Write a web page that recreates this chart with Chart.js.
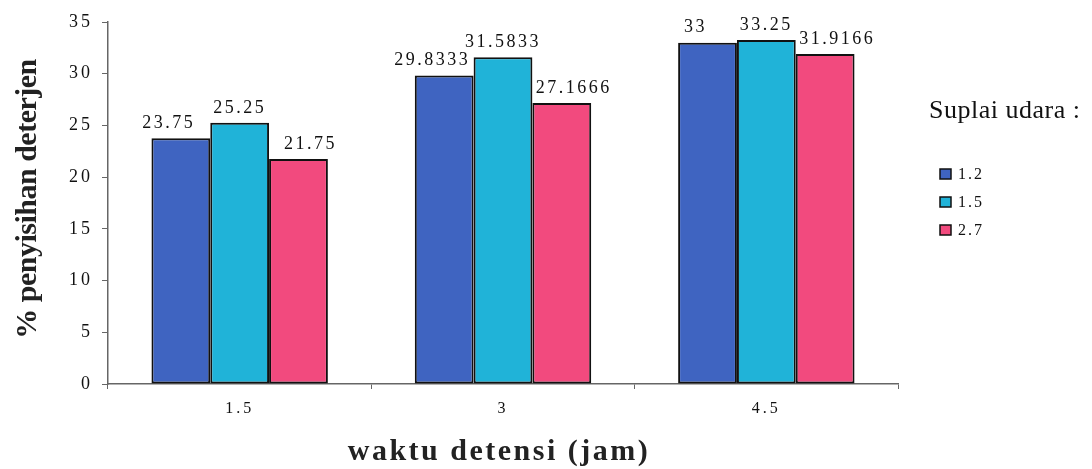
<!DOCTYPE html>
<html>
<head>
<meta charset="utf-8">
<script src="https://cdn.jsdelivr.net/npm/chart.js@4"></script>
<style>
  html, body { margin: 0; padding: 0; background: #fff; }
  #wrap { width: 1092px; height: 469px; }
</style>
</head>
<body>
<div id="wrap"><canvas id="c" width="1092" height="469"></canvas></div>
<script>
const categories = ['1.5', '3', '4.5'];
const seriesNames = ['1.2', '1.5', '2.7'];
const series12 = [23.75, 29.8333, 33];
const series15 = [25.25, 31.5833, 33.25];
const series27 = [21.75, 27.1666, 31.9166];
const labels12 = ['23.75', '29.8333', '33'];
const labels15 = ['25.25', '31.5833', '33.25'];
const labels27 = ['21.75', '27.1666', '31.9166'];
const yTicks = [0, 5, 10, 15, 20, 25, 30, 35];
const xTitle = 'waktu detensi (jam)';
const yTitle = '% penyisihan deterjen';
const legendTitle = 'Suplai udara :';

const colors = ['#3f64c1', '#20b3d8', '#f24a7e'];
const valueLabels = [labels12, labels15, labels27];
const labelOffsets = [-12, 0, 12];
const serif = '"Liberation Serif", "DejaVu Serif", serif';

const spacingPlugin = {
  id: 'spacing',
  beforeDraw(chart) { chart.ctx.letterSpacing = '3px'; }
};

const valueLabelPlugin = {
  id: 'valueLabels',
  afterDatasetsDraw(chart) {
    const ctx = chart.ctx;
    ctx.save();
    ctx.letterSpacing = '2.5px';
    ctx.font = '18px ' + serif;
    ctx.fillStyle = '#111';
    ctx.textAlign = 'center';
    ctx.textBaseline = 'bottom';
    chart.data.datasets.forEach((ds, di) => {
      const meta = chart.getDatasetMeta(di);
      meta.data.forEach((bar, i) => {
        ctx.fillText(valueLabels[di][i], bar.x + labelOffsets[di], bar.y - 6);
      });
    });
    ctx.restore();
  }
};

const titlesPlugin = {
  id: 'axisTitles',
  afterDraw(chart) {
    const ctx = chart.ctx;
    const area = chart.chartArea;
    ctx.save();
    ctx.fillStyle = '#222';
    ctx.textAlign = 'center';
    ctx.textBaseline = 'middle';
    ctx.letterSpacing = '2.5px';
    ctx.font = 'bold 30px ' + serif;
    ctx.fillText(xTitle, (area.left + area.right) / 2 - 4, 452);
    ctx.translate(28, 199);
    ctx.rotate(-Math.PI / 2);
    ctx.letterSpacing = '-0.5px';
    ctx.font = 'bold 30px ' + serif;
    ctx.fillText(yTitle, 0, 0);
    ctx.restore();
  }
};

const legendPlugin = {
  id: 'customLegend',
  afterDraw(chart) {
    const ctx = chart.ctx;
    ctx.save();
    ctx.letterSpacing = '0.5px';
    ctx.font = '26px ' + serif;
    ctx.fillStyle = '#111';
    ctx.textAlign = 'left';
    ctx.textBaseline = 'middle';
    ctx.fillText(legendTitle, 929, 111);
    ctx.font = '16px ' + serif;
    ctx.letterSpacing = '2px';
    chart.data.datasets.forEach((ds, i) => {
      const y = 174 + i * 28;
      ctx.fillStyle = ds.backgroundColor;
      ctx.fillRect(940, y - 5, 11, 10);
      ctx.lineWidth = 1.5;
      ctx.strokeStyle = '#111';
      ctx.strokeRect(940, y - 5, 11, 10);
      ctx.fillStyle = '#111';
      ctx.fillText(ds.label, 958, y + 1);
    });
    ctx.restore();
  }
};

new Chart(document.getElementById('c'), {
  type: 'bar',
  data: {
    labels: categories,
    datasets: [
      { label: seriesNames[0], data: series12, backgroundColor: colors[0] },
      { label: seriesNames[1], data: series15, backgroundColor: colors[1] },
      { label: seriesNames[2], data: series27, backgroundColor: colors[2] }
    ].map(d => Object.assign(d, { borderColor: '#111', borderWidth: 2, borderSkipped: false }))
  },
  options: {
    responsive: false,
    animation: false,
    devicePixelRatio: 1,
    layout: { padding: { left: 0, top: 22, right: 194, bottom: 0 } },
    datasets: { bar: { categoryPercentage: 0.67, barPercentage: 1.0 } },
    plugins: { legend: { display: false }, tooltip: { enabled: false } },
    scales: {
      x: {
        offset: true,
        border: { display: true, color: '#666', width: 1.5 },
        grid: { offset: true, drawOnChartArea: false, drawTicks: true, tickLength: 5, color: '#666' },
        ticks: { color: '#111', font: { family: serif, size: 16 }, padding: 10 },
        title: { display: false },
        afterFit(s) { s.height = 85; }
      },
      y: {
        min: 0, max: 35,
        afterBuildTicks(s) { s.ticks = yTicks.map(v => ({ value: v })); },
        border: { display: true, color: '#666', width: 1.5 },
        grid: { drawOnChartArea: false, drawTicks: true, tickLength: 6, color: '#666' },
        ticks: { color: '#111', font: { family: serif, size: 18 }, padding: 9 },
        title: { display: false },
        afterFit(s) { s.width = 108; }
      }
    }
  },
  plugins: [spacingPlugin, valueLabelPlugin, titlesPlugin, legendPlugin]
});
</script>
</body>
</html>
